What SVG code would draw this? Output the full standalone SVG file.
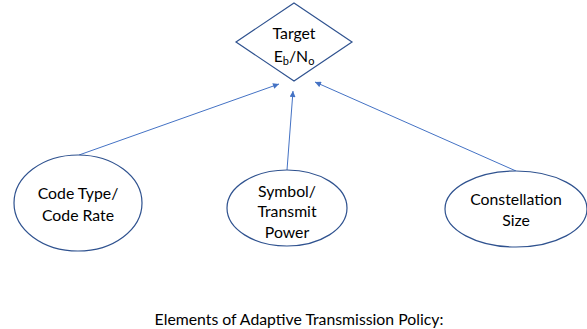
<svg xmlns="http://www.w3.org/2000/svg" width="587" height="329" viewBox="0 0 587 329">
<style>
.shape{fill:#fff;stroke:#2F528F;stroke-width:1.2}
.conn{stroke:#4472C4;stroke-width:1;fill:none;marker-end:url(#ah)}
text{font-family:Lato,"Open Sans","Liberation Sans",sans-serif;font-size:15.8px;fill:#000;text-anchor:middle}
</style>
<defs>
<marker id="ah" viewBox="0 0 10 10" refX="10" refY="5" markerWidth="7" markerHeight="6" orient="auto" markerUnits="userSpaceOnUse">
<path d="M0,0 L10,5 L0,10 z" fill="#4472C4"/>
</marker>
</defs>
<rect width="587" height="329" fill="#fff"/>
<g id="connectors">
<line class="conn" x1="79" y1="155" x2="279" y2="84"/>
<line class="conn" x1="287" y1="170" x2="293" y2="91"/>
<line class="conn" x1="516" y1="171" x2="315" y2="82"/>
</g>
<g id="target">
<polygon class="shape" points="294,3 352,42 294,81 236,42"/>
<text x="294" y="39">Target</text>
<text x="294" y="62">E<tspan font-size="11" dy="3">b</tspan><tspan dy="-3">/N</tspan><tspan font-size="11" dy="3">o</tspan></text>
</g>
<g id="code">
<ellipse class="shape" cx="78" cy="203" rx="64" ry="48"/>
<text x="78" y="199">Code Type/</text>
<text x="78" y="221">Code Rate</text>
</g>
<g id="power">
<ellipse class="shape" cx="287" cy="208" rx="60" ry="38"/>
<text x="287" y="197">Symbol/</text>
<text x="287" y="217">Transmit</text>
<text x="287" y="238">Power</text>
</g>
<g id="constellation">
<ellipse class="shape" cx="516" cy="209" rx="71" ry="38"/>
<text x="516" y="205">Constellation</text>
<text x="516" y="226">Size</text>
</g>
<text x="299" y="325">Elements of Adaptive Transmission Policy:</text>
</svg>
